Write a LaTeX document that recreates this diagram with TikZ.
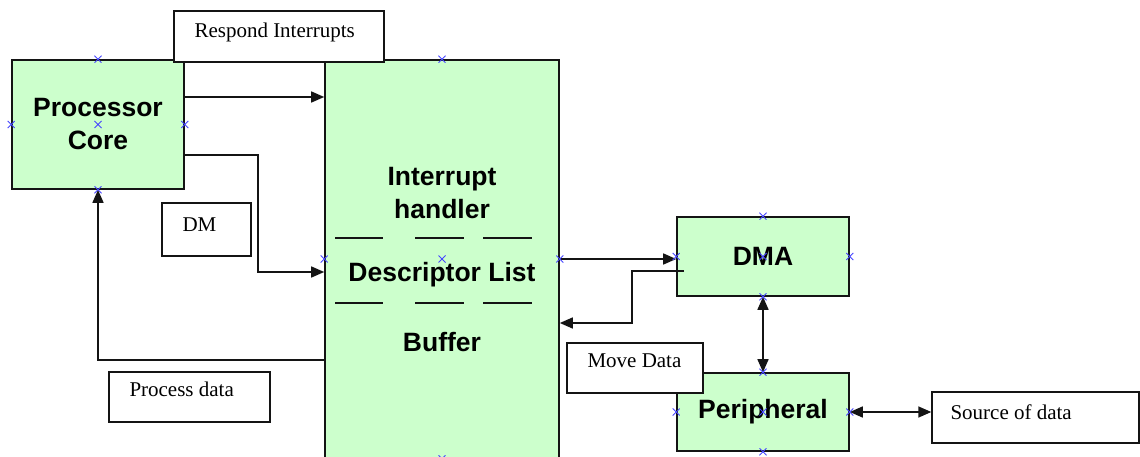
\documentclass[tikz,border=0pt]{standalone}
\usepackage{fontspec}
\setmainfont{Liberation Serif}
\newfontfamily\blocksans{Liberation Sans}
\usetikzlibrary{arrows.meta,calc}
\definecolor{blockgreen}{RGB}{204,255,204}
\definecolor{pinblue}{RGB}{70,70,255}
\definecolor{inkline}{RGB}{20,20,20}

\begin{document}
\begin{tikzpicture}[x=1pt,y=-1pt,
  block/.style={draw=inkline, line width=1.6pt, fill=blockgreen, inner sep=0pt,
    align=center, font=\blocksans\bfseries\fontsize{26.5}{33}\selectfont},
  blocktext/.style={inner sep=0pt, align=center,
    font=\blocksans\bfseries\fontsize{26.5}{33}\selectfont},
  tag/.style={draw=inkline, line width=1.4pt, fill=white, inner sep=0pt},
  tagtext/.style={anchor=base west, inner sep=0pt, font=\fontsize{21}{24}\selectfont},
  link/.style={draw=inkline, line width=1.5pt},
  tip/.style={-{Triangle[length=13pt,width=11pt]}},
  twotips/.style={{Triangle[length=13pt,width=11pt]}-{Triangle[length=13pt,width=11pt]}},
  pin/.style={draw=pinblue, line width=0.8pt}
]
\useasboundingbox (0,0) rectangle (1140,457);

% main blocks
\node[block, minimum width=172pt, minimum height=129pt] (pc) at (98,124.5) {Processor\\Core};
\node[block, minimum width=234pt, minimum height=398pt] (ih) at (442,259) {};
\node[block, minimum width=172pt, minimum height=79pt] (dma) at (763,256.5) {DMA};
\node[block, minimum width=172pt, minimum height=78pt] (per) at (763,412) {Peripheral};

% sections of the interrupt handler block
\node[blocktext] (ihtitle) at (442,193.5) {Interrupt\\handler};
\node[blocktext] (desc) at (442,275) {Descriptor List};
\node[blocktext] (buf) at (442,342) {Buffer};
\foreach \yy in {238,303} {
  \draw[link] (335,\yy) -- (383,\yy);
  \draw[link] (415,\yy) -- (464,\yy);
  \draw[link] (483,\yy) -- (532,\yy);
}

% side labels that sit under the connectors' ends
\node[tag, minimum width=207pt, minimum height=51pt] (src) at (1035.5,417.5) {};
\node[tagtext] (srctxt) at ($(src.north west)+(19,28)$) {Source of data};

% connectors
\coordinate (dmbend) at (258,272);
\coordinate (backbend) at (632,323);
\draw[link,tip] ([yshift=27.5pt]pc.east) -- ([yshift=27.5pt]pc.east -| ih.west);
\draw[link,tip] ([yshift=-30.5pt]pc.east) -| (dmbend) -- (dmbend -| ih.west);
\draw[link,tip] ([yshift=-101pt]ih.west) -| (pc.south);
\draw[link,tip] (ih.east) -- (ih.east -| dma.west);
\draw[link,tip] ([xshift=8pt,yshift=-14.5pt]dma.west) -| (backbend) -- (backbend -| ih.east);
\draw[link,twotips] (dma.south) -- (per.north);
\draw[link,twotips] (per.east) -- (per.east -| src.west);

% connection pins of the blocks
\foreach \blk in {pc,ih,dma,per} {
  \foreach \anc in {north,south,east,west,center} {
    \draw[pin] ($(\blk.\anc)+(-3.5,-3.5)$) -- ++(7,7)
               ($(\blk.\anc)+(-3.5,3.5)$) -- ++(7,-7);
  }
}

% labels
\node[tag, minimum width=210pt, minimum height=51pt] (resp) at (279,36.5) {};
\node[tagtext] (resptxt) at ($(resp.north west)+(21,27)$) {Respond Interrupts};
\node[tag, minimum width=89pt, minimum height=53pt] (dm) at (206.5,229.5) {};
\node[tagtext] (dmtxt) at ($(dm.north west)+(21,29)$) {DM};
\node[tag, minimum width=161pt, minimum height=50pt] (proc) at (189.5,397) {};
\node[tagtext] (proctxt) at ($(proc.north west)+(21,25)$) {Process data};
\node[tag, minimum width=136pt, minimum height=50pt] (move) at (635,368) {};
\node[tagtext] (movetxt) at ($(move.north west)+(21,25)$) {Move Data};
\end{tikzpicture}
\end{document}
